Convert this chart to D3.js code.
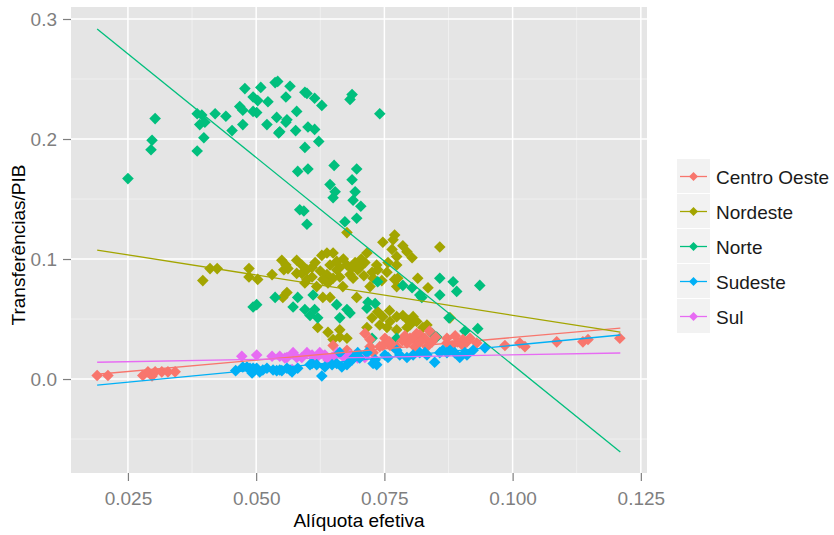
<!DOCTYPE html>
<html>
<head>
<meta charset="utf-8">
<script src="https://cdn.jsdelivr.net/npm/d3@7"></script>
<style>
  body { margin: 0; background: #fff; }
  text { font-family: "Liberation Sans", Arial, sans-serif; }
</style>
</head>
<body>
<div id="chart"></div>
<script>

    var categories = ['Centro Oeste', 'Nordeste', 'Norte', 'Sudeste', 'Sul'];
    var colors = ['#F8766D', '#A3A500', '#00BF7D', '#00B0F6', '#E76BF3'];

    var xTicks = [0.025, 0.050, 0.075, 0.100, 0.125];
    var xMinor = [0.0375, 0.0625, 0.0875, 0.1125];
    var yTicks = [0.0, 0.1, 0.2, 0.3];
    var yMinor = [-0.05, 0.05, 0.15, 0.25];

    // [aliquota efetiva, transferencias/PIB]
    var centroOeste = [
        [0.0190,0.003],[0.0211,0.003],[0.0279,0.003],[0.0289,0.006],[0.0297,0.0025],[0.0303,0.006],
        [0.0316,0.006],[0.0328,0.006],[0.0342,0.006],[0.0650,0.028],[0.0677,0.024],[0.0712,0.038],
        [0.0722,0.033],[0.0722,0.027],[0.0741,0.027],[0.0751,0.034],[0.0761,0.028],[0.0767,0.027],
        [0.0774,0.027],[0.0794,0.030],[0.0800,0.034],[0.0806,0.034],[0.0813,0.038],[0.0819,0.037],
        [0.0825,0.034],[0.0829,0.034],[0.0833,0.027],[0.0843,0.031],[0.0809,0.027],[0.0872,0.034],
        [0.0872,0.030],[0.0882,0.028],[0.0893,0.031],[0.0903,0.033],[0.0903,0.028],[0.0911,0.031],
        [0.0917,0.034],[0.0930,0.030],[0.0985,0.028],[0.1014,0.030],[0.1024,0.027],[0.1086,0.031],
        [0.1137,0.031],[0.1147,0.033],[0.1209,0.034],[0.0728,0.022],[0.0747,0.028],[0.0785,0.032],
        [0.0790,0.036],[0.0820,0.031],[0.0850,0.035],[0.0760,0.031],[0.0838,0.040],[0.0888,0.036]
    ];

    var nordeste = [
        [0.0396,0.082],[0.0410,0.092],[0.0424,0.092],[0.0486,0.092],[0.0486,0.085],[0.0503,0.083],
        [0.0531,0.087],[0.0550,0.099],[0.0558,0.095],[0.0552,0.068],[0.0560,0.072],[0.0579,0.099],
        [0.0579,0.088],[0.0562,0.092],[0.0554,0.091],[0.0589,0.088],[0.0599,0.091],[0.0599,0.083],
        [0.0609,0.085],[0.0618,0.077],[0.0628,0.103],[0.0638,0.105],[0.0650,0.105],[0.0644,0.095],
        [0.0657,0.098],[0.0663,0.093],[0.0663,0.085],[0.0650,0.084],[0.0638,0.087],[0.0640,0.080],
        [0.0630,0.068],[0.0644,0.068],[0.0669,0.077],[0.0677,0.122],[0.0677,0.095],[0.0693,0.097],
        [0.0698,0.091],[0.0689,0.084],[0.0696,0.068],[0.0683,0.087],[0.0712,0.097],[0.0716,0.105],
        [0.0726,0.089],[0.0737,0.091],[0.0728,0.084],[0.0722,0.077],[0.0755,0.089],[0.0757,0.097],
        [0.0747,0.114],[0.0770,0.120],[0.0767,0.116],[0.0786,0.111],[0.0765,0.108],[0.0774,0.102],
        [0.0794,0.106],[0.0804,0.101],[0.0815,0.084],[0.0835,0.076],[0.0776,0.084],[0.0774,0.077],
        [0.0858,0.110],[0.0774,0.095],[0.0726,0.051],[0.0737,0.056],[0.0747,0.052],[0.0761,0.048],
        [0.0774,0.052],[0.0786,0.053],[0.0796,0.049],[0.0806,0.052],[0.0741,0.045],[0.0755,0.043],
        [0.0774,0.041],[0.0794,0.043],[0.0813,0.048],[0.0825,0.043],[0.0716,0.043],[0.0620,0.043],
        [0.0640,0.039],[0.0663,0.035],[0.0677,0.034],[0.0650,0.033],[0.0663,0.041],[0.0878,0.051],
        [0.0833,0.045],[0.0770,0.083],[0.0589,0.095],[0.0609,0.093],[0.0657,0.091],[0.0702,0.093],
        [0.0735,0.095],[0.0615,0.097],[0.0625,0.090],[0.0670,0.100],[0.0705,0.100],[0.0685,0.092],
        [0.0595,0.080],[0.0630,0.083],[0.0710,0.086],[0.0745,0.082],[0.0760,0.057],[0.0800,0.045]
    ];

    var norte = [
        [0.0250,0.167],[0.0303,0.217],[0.0297,0.199],[0.0295,0.191],[0.0385,0.190],[0.0398,0.201],
        [0.0385,0.221],[0.0394,0.220],[0.0390,0.212],[0.0400,0.214],[0.0420,0.221],[0.0441,0.219],
        [0.0453,0.207],[0.0474,0.212],[0.0468,0.227],[0.0478,0.242],[0.0474,0.224],[0.0494,0.235],
        [0.0503,0.232],[0.0509,0.243],[0.0501,0.222],[0.0523,0.231],[0.0521,0.212],[0.0537,0.247],
        [0.0542,0.248],[0.0540,0.218],[0.0544,0.205],[0.0558,0.235],[0.0566,0.244],[0.0558,0.214],
        [0.0579,0.223],[0.0577,0.207],[0.0581,0.173],[0.0585,0.141],[0.0494,0.223],[0.0560,0.216],
        [0.0546,0.206],[0.0595,0.239],[0.0599,0.238],[0.0614,0.234],[0.0628,0.228],[0.0601,0.210],
        [0.0614,0.208],[0.0622,0.198],[0.0595,0.193],[0.0601,0.175],[0.0652,0.178],[0.0696,0.175],
        [0.0644,0.162],[0.0654,0.156],[0.0650,0.151],[0.0687,0.166],[0.0693,0.156],[0.0689,0.149],
        [0.0704,0.144],[0.0696,0.134],[0.0673,0.131],[0.0593,0.140],[0.0599,0.129],[0.0683,0.233],
        [0.0687,0.237],[0.0741,0.221],
        [0.0494,0.060],[0.0501,0.062],[0.0537,0.068],[0.0572,0.060],[0.0581,0.068],[0.0611,0.070],
        [0.0595,0.058],[0.0605,0.053],[0.0614,0.058],[0.0620,0.051],[0.0657,0.062],[0.0663,0.051],
        [0.0677,0.058],[0.0683,0.055],[0.0716,0.059],[0.0718,0.064],[0.0732,0.063],[0.0737,0.081],
        [0.0786,0.078],[0.0804,0.076],[0.0819,0.070],[0.0823,0.068],[0.0858,0.084],[0.0884,0.081],
        [0.0858,0.070],[0.0891,0.073],[0.0936,0.078],[0.0876,0.051],[0.0726,0.034],[0.0774,0.034],
        [0.0843,0.038],[0.0852,0.035],[0.0907,0.040],[0.0932,0.042]
    ];

    var sudeste = [
        [0.0460,0.007],[0.0482,0.010],[0.0474,0.010],[0.0488,0.009],[0.0494,0.009],[0.0501,0.009],
        [0.0513,0.0075],[0.0521,0.009],[0.0533,0.0075],[0.0540,0.007],[0.0550,0.007],[0.0566,0.0075],
        [0.0581,0.009],[0.0492,0.005],[0.0507,0.006],[0.0546,0.0075],[0.0560,0.009],[0.0570,0.006],
        [0.0605,0.012],[0.0609,0.013],[0.0618,0.012],[0.0628,0.0025],[0.0634,0.010],[0.0648,0.012],
        [0.0657,0.013],[0.0667,0.010],[0.0677,0.012],[0.0687,0.016],[0.0689,0.0175],[0.0698,0.022],
        [0.0702,0.0175],[0.0716,0.022],[0.0728,0.013],[0.0732,0.016],[0.0735,0.012],[0.0751,0.020],
        [0.0757,0.018],[0.0774,0.024],[0.0780,0.020],[0.0794,0.018],[0.0806,0.020],[0.0819,0.022],
        [0.0829,0.022],[0.0833,0.020],[0.0848,0.014],[0.0858,0.022],[0.0864,0.024],[0.0872,0.022],
        [0.0878,0.024],[0.0887,0.022],[0.0897,0.018],[0.0907,0.022],[0.0911,0.020],[0.0923,0.024],
        [0.0946,0.026],[0.0663,0.022]
    ];

    var sul = [
        [0.0472,0.019],[0.0501,0.020],[0.0546,0.019],[0.0556,0.0175],[0.0560,0.018],[0.0570,0.008],
        [0.0572,0.022],[0.0579,0.018],[0.0589,0.018],[0.0599,0.022],[0.0618,0.018],[0.0634,0.020],
        [0.0648,0.018],[0.0659,0.022],[0.0673,0.0175],[0.0683,0.020],[0.0698,0.0175],[0.0531,0.019],
        [0.0609,0.020],[0.0624,0.022],[0.0640,0.016],[0.0667,0.020],[0.0693,0.020],[0.0712,0.018]
    ];

    // fitted lines: y at the first and last x
    var fitX = [0.019, 0.121];
    var fitStart = [0.004, 0.1075, 0.2917, -0.005, 0.014];
    var fitEnd = [0.0425, 0.039, -0.0608, 0.0367, 0.0217];

    var series = [centroOeste, nordeste, norte, sudeste, sul];
    var drawOrder = [1, 2, 0, 4, 3];

    var width = 834, height = 535;
    var panel = { left: 71, right: 647, top: 7, bottom: 473 };

    var xScale = d3.scaleLinear()
        .domain([0.0139, 0.1262])
        .range([panel.left, panel.right]);

    var yScale = d3.scaleLinear()
        .domain([-0.0783, 0.31])
        .range([panel.bottom, panel.top]);

    var svg = d3.select('#chart').append('svg')
        .attr('width', width)
        .attr('height', height);

    svg.append('rect')
        .attr('width', width).attr('height', height).attr('fill', '#fff');

    svg.append('rect')
        .attr('x', panel.left).attr('y', panel.top)
        .attr('width', panel.right - panel.left)
        .attr('height', panel.bottom - panel.top)
        .attr('fill', '#E5E5E5');

    // grid
    var grid = svg.append('g');
    grid.selectAll('.xminor').data(xMinor).enter().append('line')
        .attr('x1', xScale).attr('x2', xScale)
        .attr('y1', panel.top).attr('y2', panel.bottom)
        .attr('stroke', '#F2F2F2').attr('stroke-width', 0.8);
    grid.selectAll('.yminor').data(yMinor).enter().append('line')
        .attr('y1', yScale).attr('y2', yScale)
        .attr('x1', panel.left).attr('x2', panel.right)
        .attr('stroke', '#F2F2F2').attr('stroke-width', 0.8);
    grid.selectAll('.xmajor').data(xTicks).enter().append('line')
        .attr('x1', xScale).attr('x2', xScale)
        .attr('y1', panel.top).attr('y2', panel.bottom)
        .attr('stroke', '#fff').attr('stroke-width', 1.5);
    grid.selectAll('.ymajor').data(yTicks).enter().append('line')
        .attr('y1', yScale).attr('y2', yScale)
        .attr('x1', panel.left).attr('x2', panel.right)
        .attr('stroke', '#fff').attr('stroke-width', 1.5);

    var diamond = 'M0,-5.8L5.8,0L0,5.8L-5.8,0Z';

    // points
    drawOrder.forEach(function(i) {
        svg.append('g').selectAll('path')
            .data(series[i])
            .enter()
            .append('path')
            .attr('d', diamond)
            .attr('transform', function(d) { return 'translate(' + xScale(d[0]) + ',' + yScale(d[1]) + ')'; })
            .attr('fill', colors[i]);
    });

    // regression lines
    svg.append('g').selectAll('line')
        .data(categories)
        .enter()
        .append('line')
        .attr('x1', xScale(fitX[0]))
        .attr('x2', xScale(fitX[1]))
        .attr('y1', function(d, i) { return yScale(fitStart[i]); })
        .attr('y2', function(d, i) { return yScale(fitEnd[i]); })
        .attr('stroke', function(d, i) { return colors[i]; })
        .attr('stroke-width', 1.3);

    // axes
    var xAxis = svg.append('g')
        .attr('transform', 'translate(0,' + panel.bottom + ')')
        .call(d3.axisBottom(xScale).tickValues(xTicks).tickFormat(d3.format('.3f')).tickSize(8).tickPadding(11));
    var yAxis = svg.append('g')
        .attr('transform', 'translate(' + panel.left + ',0)')
        .call(d3.axisLeft(yScale).tickValues(yTicks).tickFormat(d3.format('.1f')).tickSize(8).tickPadding(6));

    [xAxis, yAxis].forEach(function(a) {
        a.select('.domain').remove();
        a.selectAll('line').attr('stroke', '#7F7F7F').attr('stroke-width', 1.2);
        a.selectAll('text').attr('fill', '#7F7F7F')
            .style('font-size', '19px')
            .style('font-family', '"Liberation Sans", Arial, sans-serif');
    });

    // titles
    svg.append('text')
        .attr('x', (panel.left + panel.right) / 2)
        .attr('y', 527)
        .attr('text-anchor', 'middle')
        .style('font-size', '19px')
        .attr('fill', '#000')
        .text('Alíquota efetiva');

    svg.append('text')
        .attr('transform', 'translate(25,' + ((panel.top + panel.bottom) / 2 + 5) + ') rotate(-90)')
        .attr('text-anchor', 'middle')
        .style('font-size', '19px')
        .attr('fill', '#000')
        .text('Transferências/PIB');

    // legend
    var legend = svg.append('g').attr('transform', 'translate(677,159)');
    var rowH = 35;
    var rows = legend.selectAll('g')
        .data(categories)
        .enter()
        .append('g')
        .attr('transform', function(d, i) { return 'translate(0,' + (i * rowH) + ')'; });

    rows.append('rect')
        .attr('width', 33).attr('height', rowH - 1)
        .attr('fill', '#F2F2F2');
    rows.append('line')
        .attr('x1', 3).attr('x2', 30)
        .attr('y1', rowH / 2).attr('y2', rowH / 2)
        .attr('stroke', function(d, i) { return colors[i]; })
        .attr('stroke-width', 1.3);
    rows.append('path')
        .attr('d', 'M0,-4.5L4.5,0L0,4.5L-4.5,0Z')
        .attr('transform', 'translate(16.5,' + (rowH / 2) + ')')
        .attr('fill', function(d, i) { return colors[i]; });
    rows.append('text')
        .attr('x', 39)
        .attr('y', rowH / 2 + 7)
        .style('font-size', '19px')
        .attr('fill', '#1A1A1A')
        .text(function(d) { return d; });

</script>
</body>
</html>
